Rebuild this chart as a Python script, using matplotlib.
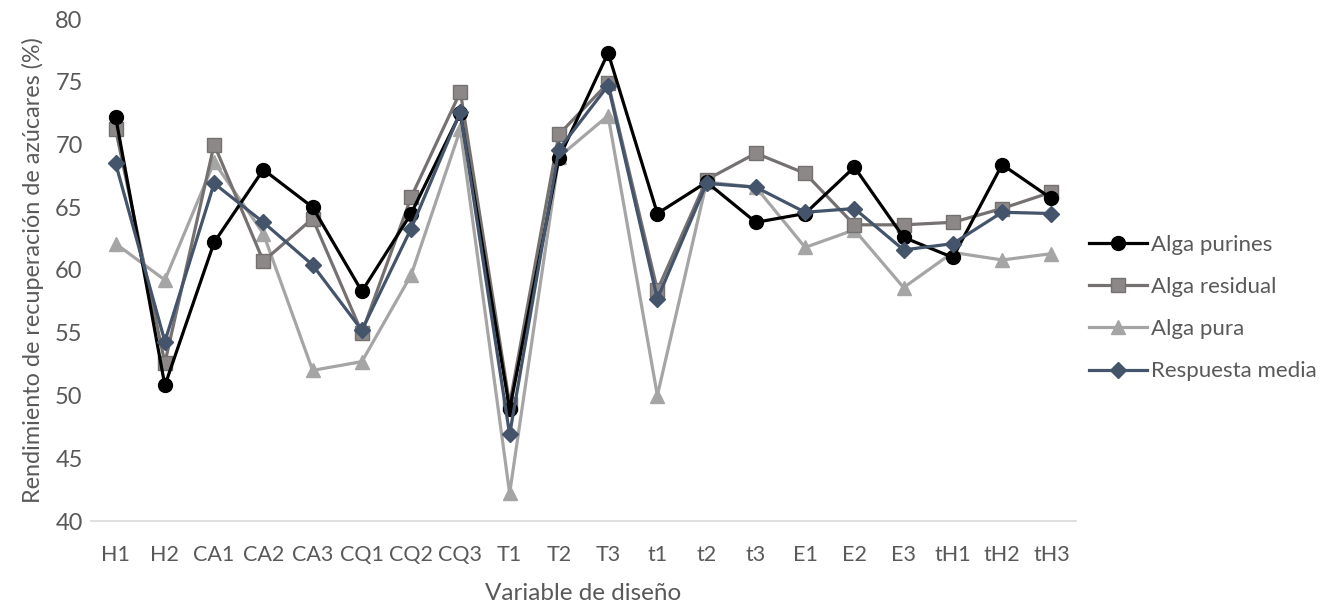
import matplotlib.pyplot as plt

categorias = ["H1", "H2", "CA1", "CA2", "CA3", "CQ1", "CQ2", "CQ3", "T1", "T2",
              "T3", "t1", "t2", "t3", "E1", "E2", "E3", "tH1", "tH2", "tH3"]

alga_purines = [72.2, 50.8, 62.2, 68.0, 65.0, 58.3, 64.5, 72.5, 48.9, 68.9,
                77.3, 64.5, 67.0, 63.8, 64.5, 68.2, 62.6, 61.0, 68.4, 65.7]
alga_residual = [71.2, 52.6, 70.0, 60.7, 64.1, 55.0, 65.8, 74.2, 49.3, 70.8,
                 74.9, 58.4, 67.2, 69.3, 67.7, 63.6, 63.6, 63.8, 64.9, 66.2]
alga_pura = [62.1, 59.2, 68.6, 62.9, 52.0, 52.7, 59.6, 71.2, 42.2, 69.0,
             72.3, 50.0, 67.0, 66.6, 61.8, 63.2, 58.6, 61.4, 60.8, 61.3]
respuesta_media = [68.5, 54.3, 66.9, 63.8, 60.4, 55.2, 63.3, 72.6, 46.9, 69.6,
                   74.7, 57.7, 66.9, 66.6, 64.6, 64.9, 61.6, 62.1, 64.6, 64.5]

plt.rcParams['font.family'] = ['Lato', 'DejaVu Sans']
gris_texto = "#595959"

fig = plt.figure(figsize=(13.28, 6.05), dpi=100)
ax = fig.add_axes([91/1328, 1-521/605, (1076-91)/1328, (521-19)/605])

x = list(range(len(categorias)))
ax.plot(x, alga_purines, color="black", lw=2.3, marker="o", ms=10, label="Alga purines", zorder=4)
ax.plot(x, alga_residual, color="#767171", lw=2.3, marker="s", ms=10,
        mfc="#8C8888", mec="#767171", label="Alga residual", zorder=3)
ax.plot(x, alga_pura, color="#A5A5A5", lw=2.3, marker="^", ms=10, label="Alga pura", zorder=2)
ax.plot(x, respuesta_media, color="#44546A", lw=2.3, marker="D", ms=8, label="Respuesta media", zorder=5)

ax.set_xlim(-0.5, len(categorias) - 0.5)
ax.set_ylim(40, 80)
ax.set_yticks(range(40, 81, 5))
ax.set_xticks(x)
ax.set_xticklabels(categorias)

for s in ["top", "right", "left"]:
    ax.spines[s].set_visible(False)
ax.spines["bottom"].set_color("#D9D9D9")
ax.spines["bottom"].set_linewidth(1.2)
ax.tick_params(axis="both", length=0, colors=gris_texto)
ax.tick_params(axis="x", pad=17, labelsize=15.5)
ax.tick_params(axis="y", pad=6, labelsize=17)

ax.set_xlabel("Variable de diseño", fontsize=17.5, color=gris_texto, labelpad=13)
ax.set_ylabel("Rendimiento de recuperación de azúcares (%)", fontsize=16.8, color=gris_texto, labelpad=8)

leg = ax.legend(loc="center left", bbox_to_anchor=(1080/1328, 1-308/605),
                bbox_transform=fig.transFigure, frameon=False,
                fontsize=16, labelcolor=gris_texto, handlelength=2.6,
                labelspacing=1.0, handletextpad=0.2, borderaxespad=0)

fig.savefig("out.png", dpi=100)
